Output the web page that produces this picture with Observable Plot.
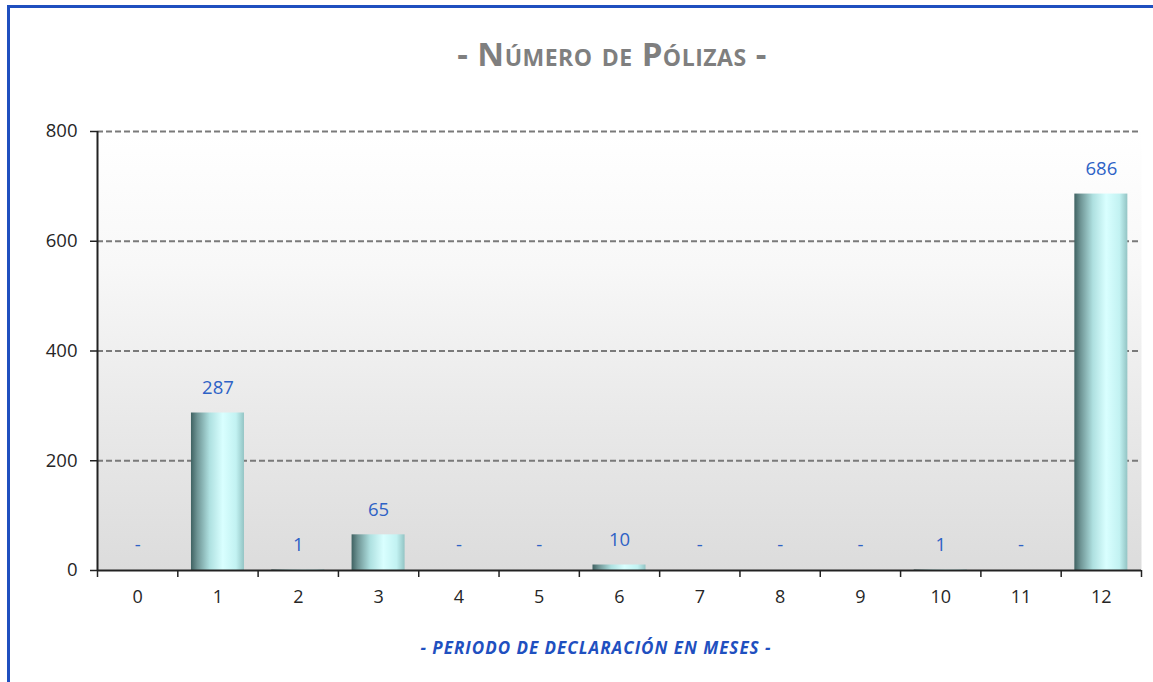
<!DOCTYPE html>
<html>
<head>
<meta charset="utf-8">
<script src="https://cdn.jsdelivr.net/npm/d3@7"></script>
<script src="https://cdn.jsdelivr.net/npm/@observablehq/plot@0.6"></script>
<style>
  html, body { margin: 0; padding: 0; background: #fff; }
  #wrap { position: relative; width: 1153px; height: 682px; overflow: hidden; font-family: "Open Sans", sans-serif; }
  #bl { position: absolute; left: 7px; top: 5px; width: 3px; height: 700px; background: #1f4fbf; }
  #bt { position: absolute; left: 7px; top: 5px; width: 1160px; height: 3px; background: #1f4fbf; }
  #title { position: absolute; left: 412px; width: 400px; top: 34px; text-align: center;
           font-size: 33px; font-weight: 700; color: #7f7f7f; font-variant: small-caps; line-height: 40px; letter-spacing: 0.5px; }
  #xtitle { position: absolute; left: 346px; width: 500px; top: 637px; text-align: center;
            font-size: 17px; font-weight: 700; font-style: italic; color: #1f50c0; line-height: 22px; letter-spacing: 1px; }
  #chart { position: absolute; left: 0; top: 0; }
</style>
</head>
<body>
<div id="wrap">
  <div id="chart"></div>
  <div id="bl"></div>
  <div id="bt"></div>
  <div id="title">- Número de Pólizas -</div>
  <div id="xtitle">- PERIODO DE DECLARACIÓN EN MESES -</div>
</div>
<script>
const meses = [0, 1, 2, 3, 4, 5, 6, 7, 8, 9, 10, 11, 12];
const polizas = [0, 287, 1, 65, 0, 0, 10, 0, 0, 0, 1, 0, 686];
const yTicks = [0, 200, 400, 600, 800];

const data = meses.map((m, i) => ({mes: m, n: polizas[i]}));
const bounds = meses.map(m => m - 0.5).concat([meses[meses.length - 1] + 0.5]);
const half = 0.33;

const svg = Plot.plot({
  width: 1153,
  height: 682,
  marginTop: 131,
  marginBottom: 112,
  marginLeft: 97,
  marginRight: 12,
  style: {fontFamily: "'Open Sans', sans-serif", fontSize: "18px", color: "#222", background: "transparent"},
  x: {domain: [-0.5, 12.5], axis: null},
  y: {domain: [0, 800], axis: null},
  marks: [
    Plot.frame({fill: "url(#bgGrad)", stroke: null}),
    Plot.gridY(yTicks.filter(d => d > 0), {stroke: "#7a7a7a", strokeOpacity: 1, strokeWidth: 2, strokeDasharray: "6,3"}),
    Plot.rectY(data, {x1: d => d.mes - half, x2: d => d.mes + half, y: "n", fill: "url(#barGrad)"}),
    Plot.text(data, {x: "mes", y: "n", text: d => d.n === 0 ? "-" : String(d.n), dy: -25, fill: "#2e62c6", fontSize: 18.5}),
    Plot.ruleY([0], {stroke: "#222", strokeWidth: 2}),
    Plot.ruleX([-0.5], {y1: 0, y2: 800, stroke: "#222", strokeWidth: 2}),
    Plot.axisY(yTicks, {tickSize: 7, tickPadding: 13, stroke: "#222", strokeWidth: 1.5, fill: "#262626", fontSize: 18.5, label: null}),
    Plot.axisX(bounds, {tickSize: 7, tickFormat: () => "", stroke: "#222", strokeWidth: 1.5, label: null}),
    Plot.axisX(meses, {tickSize: 0, tickPadding: 20, fill: "#262626", fontSize: 18, label: null})
  ]
});

const s = d3.select(svg);
const defs = s.insert("defs", ":first-child");
const bg = defs.append("linearGradient").attr("id", "bgGrad").attr("x1", 0).attr("y1", 0).attr("x2", 0).attr("y2", 1);
[[0, "#ffffff"], [0.3, "#f8f8f8"], [0.6, "#ebebeb"], [1, "#dcdcdc"]].forEach(([o, c]) =>
  bg.append("stop").attr("offset", o).attr("stop-color", c));
const bar = defs.append("linearGradient").attr("id", "barGrad").attr("x1", 0).attr("y1", 0).attr("x2", 1).attr("y2", 0);
[[0, "#3f6262"], [0.12, "#6f9595"], [0.35, "#aee0e0"], [0.6, "#d9ffff"], [0.85, "#c2f2f2"], [1, "#93c4c4"]].forEach(([o, c]) =>
  bar.append("stop").attr("offset", o).attr("stop-color", c));

document.getElementById("chart").appendChild(svg);
</script>
</body>
</html>
